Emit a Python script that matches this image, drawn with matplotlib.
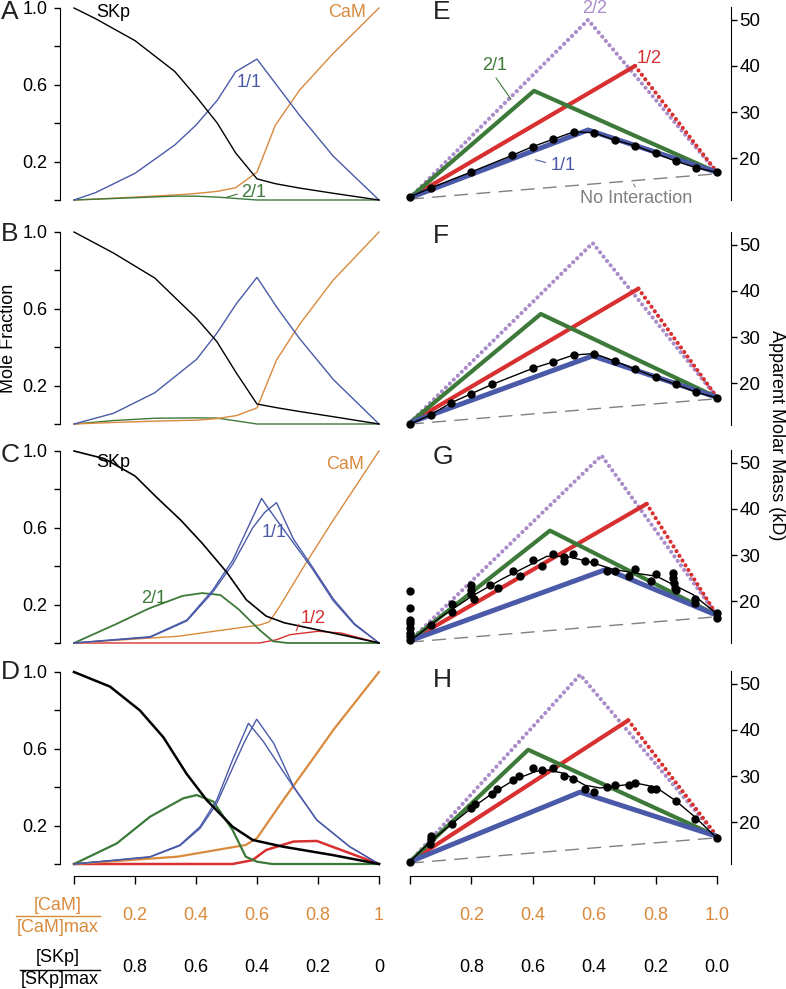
import numpy as np
import matplotlib.pyplot as plt
from matplotlib.lines import Line2D
from matplotlib.transforms import blended_transform_factory

plt.rcParams['font.family'] = ['Liberation Sans', 'DejaVu Sans']

W, H = 786, 989

C_SKP = 'black'
C_CAM = '#d98a3d'
C_11 = '#4a5aa8'
C_21 = '#3d7a3a'
C_12 = '#d83030'
C_22 = '#a98cc9'
C_NI = '#808080'

# ---------------- mole fraction panels (A-D), x = [CaM]/[CaM]max ----------------
# panel A
a_x = [0, 0.07, 0.2, 0.33, 0.4, 0.47, 0.53, 0.6, 0.66, 0.74, 0.85, 1.0]
a_skp = [1.0, 0.945, 0.83, 0.67, 0.54, 0.40, 0.245, 0.11, 0.085, 0.062, 0.035, 0]
a_one = [0, 0.038, 0.139, 0.286, 0.39, 0.52, 0.668, 0.734, 0.608, 0.44, 0.228, 0]
a_cam = [0, 0.005, 0.015, 0.026, 0.034, 0.045, 0.064, 0.145, 0.389, 0.573, 0.764, 1.0]
a_two = [0, 0.004, 0.012, 0.02, 0.02, 0.015, 0.008, 0, 0, 0, 0, 0]

# panel B
b_x = [0, 0.13, 0.265, 0.402, 0.468, 0.533, 0.6, 0.664, 0.74, 0.85, 1.0]
b_skp = [1.0, 0.89, 0.76, 0.55, 0.43, 0.264, 0.104, 0.085, 0.065, 0.038, 0]
b_one = [0, 0.056, 0.163, 0.337, 0.472, 0.628, 0.764, 0.61, 0.444, 0.232, 0]
b_cam = [0, 0.008, 0.015, 0.02, 0.028, 0.044, 0.084, 0.333, 0.52, 0.75, 1.0]
b_two = [0, 0.018, 0.03, 0.032, 0.031, 0.016, 0, 0, 0, 0, 0]

# panel C
c_skp_x = [0, 0.1, 0.2, 0.27, 0.35, 0.42, 0.5, 0.565, 0.63, 0.69, 0.8, 0.9, 1.0]
c_skp = [1.0, 0.96, 0.87, 0.76, 0.64, 0.52, 0.37, 0.225, 0.14, 0.105, 0.068, 0.035, 0]
c_cam_x = [0, 0.34, 0.61, 0.64, 0.674, 0.76, 0.85, 1.0]
c_cam = [0, 0.035, 0.094, 0.11, 0.19, 0.415, 0.64, 1.0]
c_two_x = [0, 0.14, 0.246, 0.355, 0.42, 0.48, 0.54, 0.607, 0.652, 0.7, 1.0]
c_two = [0, 0.10, 0.18, 0.245, 0.26, 0.25, 0.175, 0.07, 0.009, 0, 0]
c_half_x = [0, 0.607, 0.664, 0.707, 0.8, 0.876, 1.0]
c_half = [0, 0, 0.017, 0.043, 0.061, 0.052, 0]
c_one1_x = [0, 0.25, 0.37, 0.455, 0.52, 0.586, 0.615, 0.66, 0.72, 0.78, 0.85, 0.92, 1.0]
c_one1 = [0, 0.033, 0.12, 0.276, 0.43, 0.655, 0.753, 0.65, 0.52, 0.39, 0.22, 0.095, 0]
c_one2_x = [0, 0.25, 0.37, 0.455, 0.52, 0.586, 0.625, 0.664, 0.72, 0.78, 0.85, 0.92, 1.0]
c_one2 = [0, 0.03, 0.115, 0.265, 0.41, 0.6, 0.68, 0.731, 0.54, 0.40, 0.23, 0.10, 0]

# panel D
d_skp_x = [0, 0.118, 0.216, 0.293, 0.369, 0.435, 0.52, 0.586, 0.686, 0.85, 1.0]
d_skp = [1.0, 0.924, 0.80, 0.66, 0.47, 0.333, 0.194, 0.125, 0.09, 0.046, 0]
d_cam_x = [0, 0.339, 0.563, 0.6, 0.686, 0.796, 0.85, 1.0]
d_cam = [0, 0.038, 0.099, 0.135, 0.333, 0.576, 0.698, 1.0]
d_two_x = [0, 0.14, 0.249, 0.358, 0.402, 0.457, 0.52, 0.563, 0.6, 0.65, 1.0]
d_two = [0, 0.107, 0.246, 0.342, 0.359, 0.325, 0.177, 0.038, 0.012, 0, 0]
d_half_x = [0, 0.52, 0.585, 0.63, 0.72, 0.796, 1.0]
d_half = [0, 0, 0.02, 0.073, 0.117, 0.12, 0]
d_one1_x = [0, 0.249, 0.347, 0.413, 0.468, 0.52, 0.572, 0.62, 0.72, 0.796, 0.904, 1.0]
d_one1 = [0, 0.038, 0.099, 0.194, 0.333, 0.542, 0.733, 0.64, 0.40, 0.229, 0.09, 0]
d_one2_x = [0, 0.249, 0.347, 0.413, 0.468, 0.52, 0.56, 0.599, 0.655, 0.72, 0.796, 0.904, 1.0]
d_one2 = [0, 0.036, 0.095, 0.185, 0.315, 0.50, 0.64, 0.754, 0.628, 0.403, 0.229, 0.09, 0]

# ---------------- apparent molar mass panels (E-H) ----------------
mass_skp = 11.4
mass_cam = 16.9
no_int = [11.1, 16.6]
peak22_x = [0.58, 0.595, 0.624, 0.554]
peak22_y = [50.0, 50.4, 51.6, 52.0]
peak12_x = [0.733, 0.744, 0.771, 0.711]
peak12_y = [40.0, 40.5, 41.1, 42.1]
peak21_x = [0.404, 0.426, 0.456, 0.385]
peak21_y = [34.6, 35.0, 35.3, 35.7]
peak11_x = [0.58, 0.595, 0.64, 0.554]
peak11_y = [26.1, 25.9, 26.9, 26.5]

e_pts_x = [0, 0.067, 0.2, 0.333, 0.4, 0.467, 0.533, 0.6, 0.667, 0.733, 0.8, 0.867, 0.933, 1.0]
e_pts_y = [11.6, 13.5, 17.0, 20.6, 22.5, 24.1, 25.7, 25.5, 23.9, 22.7, 21.0, 19.3, 17.9, 16.9]

f_pts_x = [0, 0.067, 0.133, 0.2, 0.267, 0.4, 0.467, 0.533, 0.6, 0.667, 0.733, 0.8, 0.867, 0.933, 1.0]
f_pts_y = [11.1, 13.1, 15.7, 17.7, 19.7, 23.2, 24.6, 26.1, 26.4, 24.8, 23.0, 21.3, 19.7, 18.0, 16.8]

g_pts_x = [0, 0, 0, 0, 0, 0, 0, 0, 0.068, 0.136, 0.136, 0.2, 0.2, 0.2, 0.21, 0.26, 0.287,
           0.336, 0.358, 0.402, 0.429, 0.467, 0.5, 0.5, 0.532, 0.57, 0.6, 0.643, 0.668,
           0.714, 0.733, 0.784, 0.801, 0.857, 0.857, 0.86, 0.862, 0.868, 0.928, 0.928, 1.0, 1.0]
g_pts_y = [22.2, 18.5, 16.0, 15.3, 14.2, 13.1, 12.4, 11.6, 14.8, 19.4, 17.7, 23.6, 22.5, 21.5,
           20.4, 23.5, 22.9, 26.6, 25.5, 28.9, 27.6, 30.2, 29.6, 28.7, 30.2, 28.7, 28.4, 26.6,
           26.6, 25.5, 27.0, 24.4, 25.8, 26.2, 25.1, 24.0, 22.9, 22.3, 20.4, 19.6, 17.4, 16.4]
g_fit_x = [0, 0.1, 0.2, 0.3, 0.445, 0.51, 0.575, 0.662, 0.75, 0.803, 0.922, 1.0]
g_fit_y = [11.3, 16.5, 21.0, 24.8, 29.7, 29.7, 28.7, 26.9, 25.9, 25.4, 21.4, 17.2]

h_pts_x = [0, 0.07, 0.07, 0.065, 0.136, 0.2, 0.212, 0.266, 0.285, 0.334, 0.356, 0.402, 0.429,
           0.467, 0.5, 0.532, 0.57, 0.6, 0.641, 0.668, 0.714, 0.733, 0.784, 0.801, 0.866, 0.928, 1.0]
h_pts_y = [11.4, 17.0, 16.3, 15.3, 19.5, 23.1, 24.0, 26.1, 27.2, 29.2, 30.1, 31.7, 31.4,
           31.7, 30.1, 29.4, 27.1, 26.5, 27.6, 28.1, 28.1, 28.5, 27.1, 27.1, 24.5, 20.7, 16.5]
h_fit_x = [0, 0.07, 0.136, 0.2, 0.27, 0.34, 0.41, 0.45, 0.5, 0.57, 0.62, 0.68, 0.74, 0.8, 0.866, 0.93, 1.0]
h_fit_y = [11.4, 16.0, 19.6, 23.0, 26.3, 29.2, 31.0, 31.3, 30.6, 28.0, 27.4, 27.9, 28.4, 27.6, 24.6, 21.0, 16.5]

bottom_ticks = [0, 0.2, 0.4, 0.6, 0.8, 1.0]
cam_labels_left = ['', '0.2', '0.4', '0.6', '0.8', '1']
skp_labels_left = ['', '0.8', '0.6', '0.4', '0.2', '0']
cam_labels_right = ['', '0.2', '0.4', '0.6', '0.8', '1.0']
skp_labels_right = ['', '0.8', '0.6', '0.4', '0.2', '0.0']

fig = plt.figure(figsize=(W / 100, H / 100), dpi=100)


def px_axes(left, top, right, bottom):
    return fig.add_axes([left / W, 1 - bottom / H, (right - left) / W, (bottom - top) / H])


tops = [8, 232, 451, 672]
bots = [200, 424, 643, 864]
lw = 1.0


def style_left(ax):
    ax.set_xlim(0, 1)
    ax.set_ylim(0, 1)
    for s in ['top', 'right', 'bottom']:
        ax.spines[s].set_visible(False)
    ax.spines['left'].set_position(('outward', 10))
    ax.set_xticks([])
    ax.set_yticks([0, 0.2, 0.4, 0.6, 0.8, 1.0])
    ax.set_yticklabels(['', '0.2', '', '0.6', '', '1.0'])
    ax.tick_params(axis='y', direction='out', length=4, width=1, labelsize=13, pad=5)
    ax.patch.set_visible(False)


left_axes = [px_axes(74, t, 379, b) for t, b in zip(tops, bots)]
for ax in left_axes:
    style_left(ax)

ax = left_axes[0]
ax.plot(a_x, a_cam, color=C_CAM, lw=lw, clip_on=False)
ax.plot(a_x, a_two, color=C_21, lw=lw, clip_on=False)
ax.plot(a_x, a_one, color=C_11, lw=lw, clip_on=False)
ax.plot(a_x, a_skp, color=C_SKP, lw=lw, clip_on=False)
ax.text(0.128, 0.974, 'SKp', color=C_SKP, fontsize=13, ha='center', va='center')
ax.text(0.895, 0.974, 'CaM', color=C_CAM, fontsize=13, ha='center', va='center')
ax.text(0.574, 0.61, '1/1', color=C_11, fontsize=13, ha='center', va='center')
ax.text(0.59, 0.04, '2/1', color=C_21, fontsize=13, ha='center', va='center')
ax.annotate('', xy=(0.49, 0.009), xytext=(0.544, 0.035),
            arrowprops=dict(arrowstyle='-', color=C_21, lw=0.8))

ax = left_axes[1]
ax.plot(b_x, b_two, color=C_21, lw=lw, clip_on=False)
ax.plot(b_x, b_cam, color=C_CAM, lw=lw, clip_on=False)
ax.plot(b_x, b_one, color=C_11, lw=lw, clip_on=False)
ax.plot(b_x, b_skp, color=C_SKP, lw=lw, clip_on=False)

ax = left_axes[2]
ax.plot(c_half_x, c_half, color=C_12, lw=lw, clip_on=False)
ax.plot(c_cam_x, c_cam, color=C_CAM, lw=lw, clip_on=False)
ax.plot(c_two_x, c_two, color=C_21, lw=lw * 1.3, clip_on=False)
ax.plot(c_one1_x, c_one1, color=C_11, lw=lw, clip_on=False)
ax.plot(c_one2_x, c_one2, color=C_11, lw=lw, clip_on=False)
ax.plot(c_skp_x, c_skp, color=C_SKP, lw=lw * 1.2, clip_on=False)
ax.text(0.128, 0.94, 'SKp', color=C_SKP, fontsize=13, ha='center', va='center')
ax.text(0.89, 0.93, 'CaM', color=C_CAM, fontsize=13, ha='center', va='center')
ax.text(0.656, 0.573, '1/1', color=C_11, fontsize=13, ha='center', va='center')
ax.text(0.26, 0.234, '2/1', color=C_21, fontsize=13, ha='center', va='center')
ax.text(0.784, 0.13, '1/2', color=C_12, fontsize=13, ha='center', va='center')
ax.annotate('', xy=(0.725, 0.05), xytext=(0.741, 0.111),
            arrowprops=dict(arrowstyle='-', color=C_12, lw=0.8))

ax = left_axes[3]
ax.plot(d_half_x, d_half, color=C_12, lw=lw * 1.8, clip_on=False)
ax.plot(d_cam_x, d_cam, color=C_CAM, lw=lw * 1.6, clip_on=False)
ax.plot(d_two_x, d_two, color=C_21, lw=lw * 1.6, clip_on=False)
ax.plot(d_one1_x, d_one1, color=C_11, lw=lw, clip_on=False)
ax.plot(d_one2_x, d_one2, color=C_11, lw=lw, clip_on=False)
ax.plot(d_skp_x, d_skp, color=C_SKP, lw=lw * 1.8, clip_on=False)

# ---------------- right panels ----------------
r_tops = [7, 232, 450, 671]
r_bots = [200, 425, 643, 864]
right_axes = [px_axes(410, t, 717, b) for t, b in zip(r_tops, r_bots)]
dot_style = dict(linestyle=(0, (0.01, 1.33)), dash_capstyle='round', solid_capstyle='round')

for i, ax in enumerate(right_axes):
    ax.set_xlim(0, 1)
    ax.set_ylim(10.9, 52.8)
    for s in ['top', 'left', 'bottom']:
        ax.spines[s].set_visible(False)
    ax.spines['right'].set_position(('outward', 10))
    ax.set_xticks([])
    ax.set_yticks([20, 30, 40, 50])
    ax.yaxis.tick_right()
    ax.tick_params(axis='y', direction='out', length=4, width=1, labelsize=13.5, pad=2)
    ax.patch.set_visible(False)

    xs = [0, peak22_x[i], 1]
    ax.plot(xs, [mass_skp, peak22_y[i], mass_cam], color=C_22, lw=3.0, clip_on=False, **dot_style)
    xs = [0, peak12_x[i], 1]
    ys = [mass_skp, peak12_y[i], mass_cam]
    ax.plot(xs[:2], ys[:2], color=C_12, lw=3.0, solid_capstyle='round', solid_joinstyle='round')
    ax.plot(xs[1:], ys[1:], color=C_12, lw=3.0, clip_on=False, **dot_style)
    ax.plot([0, peak21_x[i], 1], [mass_skp, peak21_y[i], mass_cam], color=C_21, lw=3.0,
            solid_joinstyle='round')
    ax.plot([0, peak11_x[i], 1], [mass_skp, peak11_y[i], mass_cam], color=C_11, lw=3.6,
            solid_joinstyle='round')
    ax.plot([0, 1], no_int, color=C_NI, lw=1.0, dashes=(10, 6))

pts = [(e_pts_x, e_pts_y, e_pts_x, e_pts_y), (f_pts_x, f_pts_y, f_pts_x, f_pts_y),
       (g_pts_x, g_pts_y, g_fit_x, g_fit_y), (h_pts_x, h_pts_y, h_fit_x, h_fit_y)]
for ax, (px, py, fx, fy) in zip(right_axes, pts):
    ax.plot(fx, fy, color='black', lw=1.0, clip_on=False)
    ax.plot(px, py, 'o', color='black', ms=5, clip_on=False)

ax = right_axes[0]
ax.text(0.6, 52.4, '2/2', color=C_22, fontsize=13, ha='center', va='center', clip_on=False)
ax.text(0.78, 41.55, '1/2', color=C_12, fontsize=13, ha='center', va='center')
ax.text(0.275, 40.1, '2/1', color=C_21, fontsize=13, ha='center', va='center')
ax.annotate('', xy=(0.334, 32.3), xytext=(0.275, 37.9),
            arrowprops=dict(arrowstyle='-', color=C_21, lw=0.8))
ax.text(0.498, 18.4, '1/1', color=C_11, fontsize=13, ha='center', va='center')
ax.annotate('', xy=(0.40, 19.8), xytext=(0.45, 18.9),
            arrowprops=dict(arrowstyle='-', color=C_11, lw=0.8))
ax.text(0.737, 11.3, 'No Interaction', color=C_NI, fontsize=13, ha='center', va='center')
ax.annotate('', xy=(0.724, 14.9), xytext=(0.738, 13.2),
            arrowprops=dict(arrowstyle='-', color=C_NI, lw=0.8))

# ---------------- bottom axes ----------------
for (l, r), cam_lab, skp_lab in [((74, 379), cam_labels_left, skp_labels_left),
                                 ((410, 717), cam_labels_right, skp_labels_right)]:
    bx = px_axes(l, 875, r, 876)
    bx.set_xlim(0, 1)
    for s in ['top', 'left', 'right']:
        bx.spines[s].set_visible(False)
    bx.set_yticks([])
    bx.set_xticks(bottom_ticks)
    bx.set_xticklabels([])
    bx.tick_params(axis='x', direction='out', length=6, width=1)
    bx.patch.set_visible(False)
    tr = blended_transform_factory(bx.transData, fig.transFigure)
    for t, c, s in zip(bottom_ticks, cam_lab, skp_lab):
        bx.text(t, 1 - 915 / H, c, transform=tr, color=C_CAM, fontsize=13, ha='center', va='center')
        bx.text(t, 1 - 968 / H, s, transform=tr, color='black', fontsize=13, ha='center', va='center')

fig.text(58 / W, 1 - 906 / H, '[CaM]', color=C_CAM, fontsize=13, ha='center', va='center')
fig.text(58 / W, 1 - 927 / H, '[CaM]max', color=C_CAM, fontsize=13, ha='center', va='center')
fig.add_artist(Line2D([16 / W, 100 / W], [1 - 916 / H] * 2, color=C_CAM, lw=1))
fig.text(58 / W, 1 - 957 / H, '[SKp]', color='black', fontsize=13, ha='center', va='center')
fig.text(60 / W, 1 - 980 / H, '[SKp]max', color='black', fontsize=13, ha='center', va='center')
fig.add_artist(Line2D([20 / W, 100 / W], [1 - 970 / H] * 2, color='black', lw=1))

# panel letters and axis titles
for lab, x, y in [('A', 1, 12), ('B', 1, 234), ('C', 1, 455), ('D', 1, 672),
                  ('E', 433, 12), ('F', 433, 236), ('G', 433, 457), ('H', 433, 680)]:
    fig.text(x / W, 1 - y / H, lab, fontsize=19, ha='left', va='center', color='#222222')

fig.text(9 / W, 1 - 338 / H, 'Mole Fraction', rotation=90, fontsize=13, ha='center', va='center')
fig.text(776 / W, 1 - 435 / H, 'Apparent Molar Mass (kD)', rotation=270, fontsize=13,
         ha='center', va='center')

fig.savefig('out.png', dpi=100)
